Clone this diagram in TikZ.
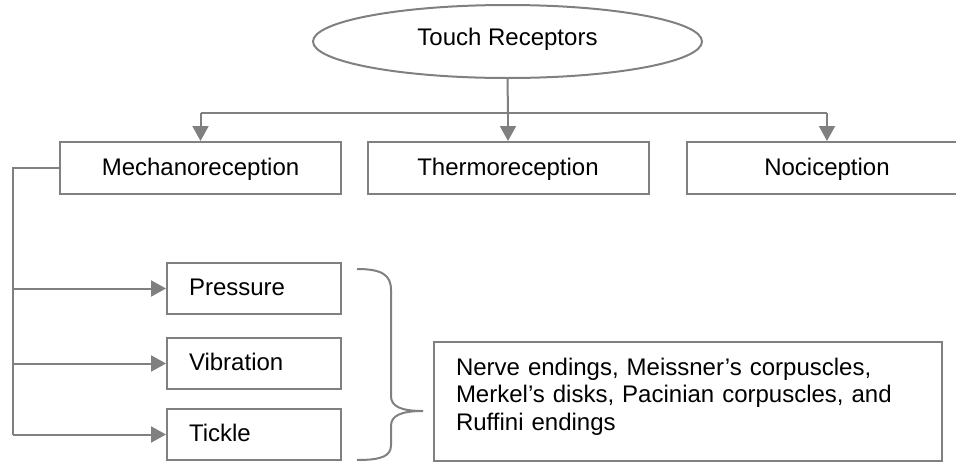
\documentclass[tikz,border=0pt]{standalone}
\usepackage{fontspec}
\setmainfont{Liberation Sans}
\usetikzlibrary{arrows.meta,shapes.geometric}
\definecolor{linegray}{HTML}{808080}
\begin{document}
\begin{tikzpicture}[x=1pt,y=-1pt,
  every node/.style={font=\fontsize{24}{27.5}\selectfont, text=black},
  outline/.style={draw=linegray, line width=2pt},
  box/.style={outline, rectangle, inner sep=0pt, text height=17pt, text depth=3pt,
    minimum width=281pt, minimum height=52pt},
  smallbox/.style={outline, rectangle, inner ysep=0pt, inner xsep=22pt,
    text width=130pt, align=left, text height=17pt, text depth=3pt, minimum height=51pt},
  oval/.style={outline, ellipse, inner sep=0pt, minimum width=389pt, minimum height=73pt,
    text height=17pt, text depth=10pt},
  conn/.style={draw=linegray, line width=2pt},
  arrow/.style={conn, -{Triangle[length=15pt, width=16pt]}}
]
\useasboundingbox (0,0) rectangle (956,461);
\clip (0,0) rectangle (956,461);

% root
\node[oval] (touch) at (507.5,41.5) {Touch Receptors};

% three receptor classes
\node[box] (mech)   at (200.5,168) {Mechanoreception};
\node[box] (thermo) at (508,168)   {Thermoreception};
\node[box] (noci)   at (827,168)   {Nociception};

% mechanoreception sensations
\node[smallbox] (press)  at (254,288.5) {Pressure};
\node[smallbox] (vib)    at (254,363.5) {Vibration};
\node[smallbox] (tickle) at (254,434.5) {Tickle};

% receptor list
\node[outline, rectangle, anchor=north west, inner xsep=22pt, inner ysep=0pt,
      text width=464pt, align=left, text height=33pt, text depth=86pt] (info) at (433,341)
  {Nerve endings, Meissner’s corpuscles,\\Merkel’s disks, Pacinian corpuscles, and\\Ruffini endings};

% tree from the root
\coordinate (hub) at (508,113);
\coordinate (hl)  at (200.5,113);
\coordinate (hr)  at (827,113);
\draw[conn] (touch.south) -- (hub);
\draw[conn] (hl) -- (hr);
\draw[arrow] (hl) -- (mech.north);
\draw[arrow] (hub) -- (thermo.north);
\draw[arrow] (hr) -- (noci.north);

% rail on the left
\coordinate (rail) at (13,0);
\draw[conn] (mech.west) -- (rail |- mech.west) -- (rail |- tickle.west);
\draw[arrow] (rail |- press.west) -- (press.west);
\draw[arrow] (rail |- vib.west) -- (vib.west);
\draw[arrow] (rail |- tickle.west) -- (tickle.west);

% brace
\coordinate (tip) at (423,411);
\draw[conn] (357,269) .. controls (382,269) and (391,275) .. (391,290)
  -- (391,396) .. controls (391,406) and (400,411) .. (tip)
  .. controls (400,411) and (391,416) .. (391,426)
  -- (391,445) .. controls (391,456) and (382,460) .. (357,460);
\end{tikzpicture}
\end{document}
